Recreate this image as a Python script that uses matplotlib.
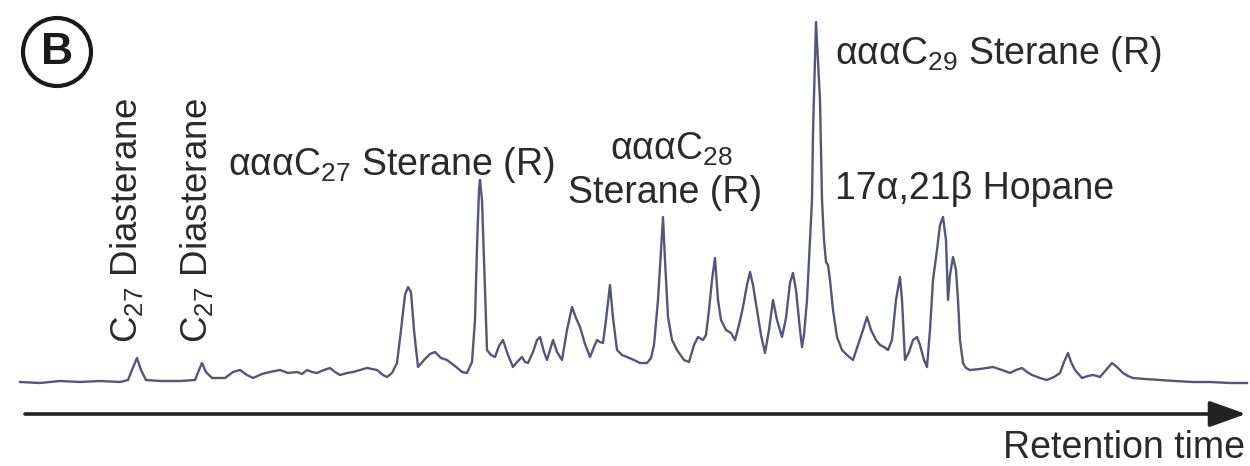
import matplotlib.pyplot as plt
from matplotlib.patches import Circle

plt.rcParams['font.family'] = ['Liberation Sans', 'DejaVu Sans']
plt.rcParams['mathtext.fontset'] = 'custom'
plt.rcParams['mathtext.rm'] = 'Liberation Sans'

# GC trace: retention position and detector response (arbitrary units)
retention = [
    20, 40, 60, 80, 100, 120, 128, 132, 137, 141, 146, 160, 180, 195, 199, 202, 206, 212,
    225, 233, 240, 247, 253, 262, 270, 280, 288, 297, 302, 307, 312, 317, 324, 330, 335,
    340, 347, 353, 360, 367, 372, 377, 383, 387, 392, 397, 401, 405, 408, 411, 414, 418,
    424, 430, 435, 441, 447, 455, 462, 467, 472, 475, 477, 479, 480, 482, 484, 487, 491,
    495, 499, 503, 508, 513, 517, 522, 525, 528, 533, 537, 540, 544, 547, 550, 553, 557,
    562, 567, 572, 576, 580, 585, 590, 594, 597, 600, 603, 606, 610, 613, 617, 622, 627,
    634, 640, 647, 651, 654, 658, 661, 663, 665, 668, 672, 677, 684, 689, 694, 698, 703,
    706, 709, 712, 715, 718, 721, 726, 731, 735, 739, 743, 747, 750, 753, 757, 761, 765,
    769, 773, 777, 782, 786, 790, 793, 796, 800, 802, 804, 807, 810, 812, 813, 815, 816,
    818, 820, 822, 824, 826, 828, 830, 833, 837, 842, 847, 853, 858, 863, 867, 871, 876,
    880, 884, 888, 892, 896, 900, 902, 905, 909, 913, 917, 920, 924, 927, 930, 933, 937,
    940, 943, 946, 948, 950, 953, 956, 958, 960, 963, 966, 970, 980, 993, 1002, 1010,
    1016, 1022, 1027, 1032, 1040, 1047, 1054, 1060, 1064, 1068, 1071, 1075, 1082, 1088,
    1093, 1097, 1100, 1106, 1112, 1117, 1123, 1128, 1133, 1145, 1160, 1175, 1193, 1210,
    1230, 1247,
]
signal = [
    32, 31, 33, 32, 33, 32, 34, 44, 56, 44, 34, 33, 33, 34, 44, 51, 42, 36,
    36, 42, 44, 39, 36, 40, 42, 44, 41, 42, 40, 44, 42, 41, 44, 46, 42,
    39, 41, 42, 44, 46, 45, 44, 39, 37, 41, 51, 84, 119, 127, 122, 84, 47,
    54, 60, 62, 56, 54, 48, 42, 41, 52, 94, 167, 224, 234, 214, 154, 64, 59,
    57, 68, 74, 59, 47, 52, 57, 52, 51, 62, 74, 77, 62, 54, 64, 74, 62,
    54, 84, 107, 96, 87, 70, 57, 67, 74, 72, 71, 94, 129, 96, 64, 59, 57,
    54, 51, 51, 56, 69, 114, 164, 197, 154, 97, 74, 64, 54, 52, 69, 77, 74,
    79, 104, 134, 156, 114, 94, 84, 81, 74, 89, 107, 129, 142, 129, 104, 79, 61,
    84, 114, 94, 77, 96, 131, 141, 124, 84, 67, 79, 114, 174, 214, 281, 354, 392,
    354, 314, 214, 174, 152, 149, 134, 104, 77, 64, 59, 54, 69, 84, 97, 84, 74,
    69, 67, 64, 74, 114, 137, 114, 54, 62, 74, 77, 69, 54, 47, 84, 134, 164,
    189, 197, 174, 114, 139, 157, 144, 114, 74, 51, 46, 44, 45, 47, 44, 41,
    44, 46, 42, 39, 36, 34, 37, 41, 52, 61, 52, 44, 36, 38,
    39, 38, 37, 44, 51, 47, 41, 38, 36, 35, 34, 33, 32, 32,
    31, 31,
]

# peak labels: (text, x, y, rotation)
labels = [
    (r'C$_\mathrm{27}$ Diasterane', 127, 71, 90),
    (r'C$_\mathrm{27}$ Diasterane', 197, 71, 90),
    (r'αααC$_\mathrm{27}$ Sterane (R)', 228, 239, 0),
    (r'αααC$_\mathrm{28}$', 610, 254, 0),
    ('Sterane (R)', 568, 211, 0),
    (r'αααC$_\mathrm{29}$ Sterane (R)', 835, 350, 0),
    ('17α,21β Hopane', 835, 215, 0),
]

ink = '#2a2a2a'

fig = plt.figure(figsize=(12.5, 4.66), dpi=100)
ax = fig.add_axes([0, 0, 1, 1])
ax.set_xlim(0, 1250)
ax.set_ylim(-52, 414)
ax.axis('off')

ax.plot(retention, signal, color='#53567a', lw=1.7, solid_joinstyle='round')

for text, x, y, rot in labels:
    if rot:
        ax.text(x, y, text, rotation=rot, ha='center', va='bottom',
                fontsize=26.5, color=ink)
    else:
        ax.text(x, y, text, ha='left', va='baseline', fontsize=27, color=ink)

# time axis arrow
ax.annotate('', xy=(1246, 0), xytext=(25, 0),
            arrowprops=dict(arrowstyle='-|>,head_length=0.7,head_width=0.25',
                            mutation_scale=32, lw=2.6, color='#222222',
                            shrinkA=0, shrinkB=0))
ax.text(1245, -44, 'Retention time', ha='right', va='baseline',
        fontsize=27, color=ink)

# panel tag
ax.add_patch(Circle((57, 362), 34, fill=False, lw=3, color='#1a1a1a'))
ax.text(57, 361, 'B', ha='center', va='center', fontsize=32,
        fontweight='bold', color='#1a1a1a')

fig.savefig('out.png', dpi=100)
